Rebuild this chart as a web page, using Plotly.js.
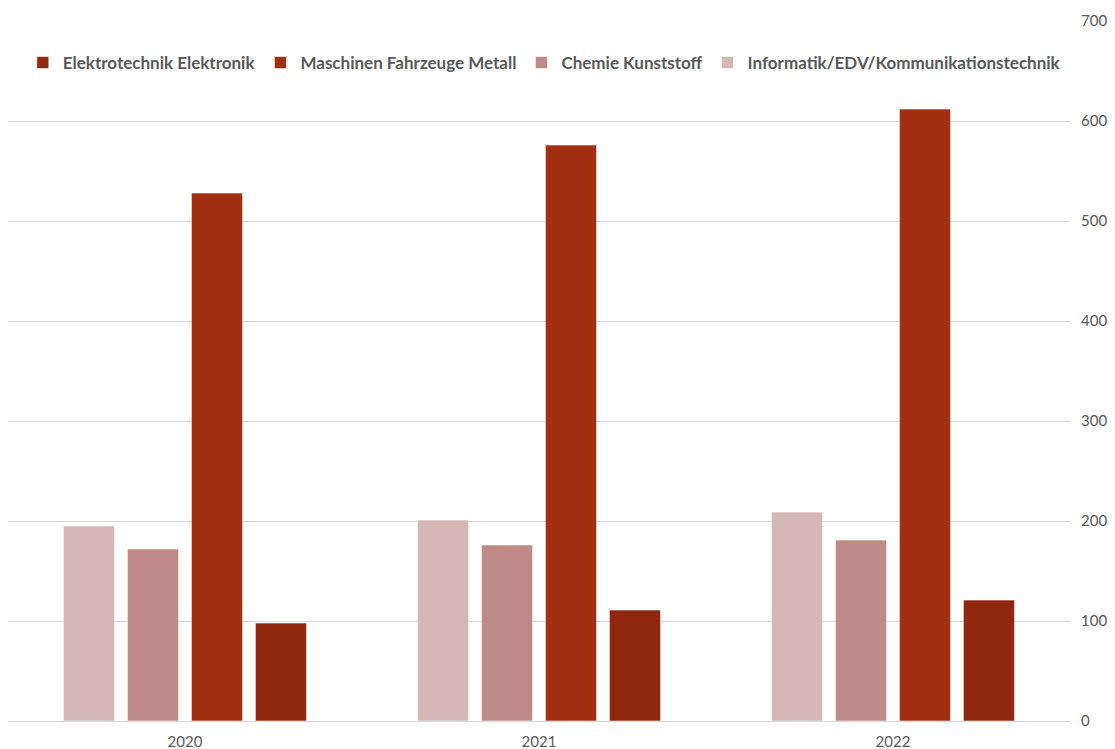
<!DOCTYPE html>
<html>
<head>
<meta charset="utf-8">
<script src="https://cdn.plot.ly/plotly-3.0.1.min.js"></script>
<style>html,body{margin:0;padding:0;background:#fff;}#chart{width:1115px;height:749px;}</style>
</head>
<body>
<div id="chart"></div>
<script>
const years = ['2020', '2021', '2022'];
const seriesNames = ['Informatik/EDV/Kommunikationstechnik', 'Chemie Kunststoff', 'Maschinen Fahrzeuge Metall', 'Elektrotechnik Elektronik'];
const informatik = [195, 201, 209];
const chemie = [172, 176, 181];
const maschinen = [528, 576, 612];
const elektro = [98, 111, 121];
const colors = ['#D5B7B5', '#BF8A85', '#A32F12', '#90270F'];

const values = [informatik, chemie, maschinen, elektro];
const traces = values.map((v, i) => ({
  type: 'bar',
  name: seriesNames[i],
  x: years,
  y: v,
  marker: {color: colors[i], line: {color: 'rgba(255,255,255,0.6)', width: 1}},
  hoverinfo: 'x+y+name'
}));

const layout = {
  width: 1115,
  height: 749,
  margin: {l: 8, r: 45, t: 21, b: 28},
  paper_bgcolor: '#ffffff',
  plot_bgcolor: '#ffffff',
  barmode: 'group',
  bargap: 0.277,
  bargroupgap: 0.2,
  font: {family: 'Lato, "Open Sans", sans-serif', color: '#595959'},
  xaxis: {
    type: 'category',
    showgrid: false,
    showline: false,
    ticks: '',
    tickfont: {size: 15, color: '#595959'},
    zeroline: false,
    automargin: false,
    ticklabelstandoff: 10
  },
  yaxis: {
    side: 'right',
    range: [0, 700],
    dtick: 100,
    showgrid: true,
    gridcolor: '#D9D9D9',
    gridwidth: 1,
    zeroline: true,
    zerolinecolor: '#D9D9D9',
    zerolinewidth: 1,
    showline: false,
    ticks: '',
    tickfont: {size: 15, color: '#595959'},
    ticklabelstandoff: 10,
    automargin: false
  },
  legend: {
    orientation: 'h',
    traceorder: 'reversed',
    x: 0.505,
    xanchor: 'center',
    y: 0.94,
    yanchor: 'middle',
    font: {size: 17, color: '#595959', family: 'Lato, "Open Sans", sans-serif', weight: 'bold'},
    bgcolor: 'rgba(0,0,0,0)',
    itemwidth: 30
  },
  showlegend: true
};

Plotly.newPlot('chart', traces, layout, {displayModeBar: false, staticPlot: true});
</script>
</body>
</html>
